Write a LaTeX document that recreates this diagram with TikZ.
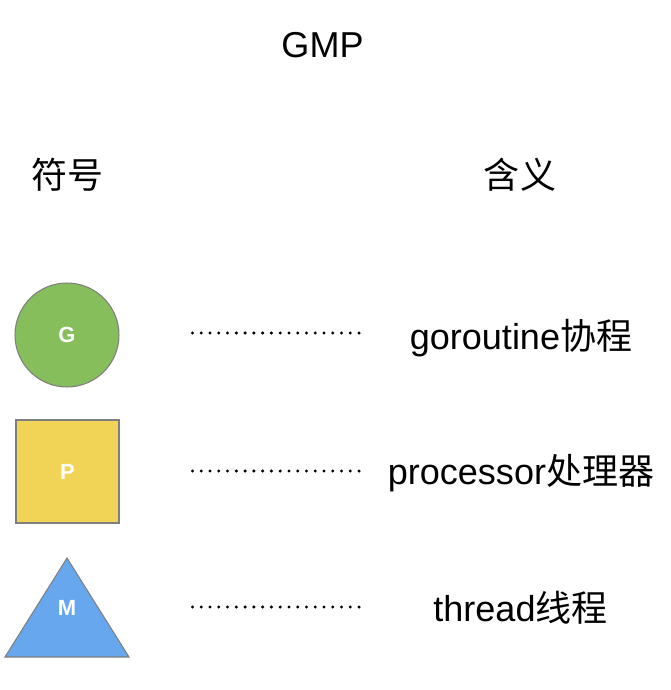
\documentclass[tikz,border=0pt]{standalone}
\usepackage{fontspec}
\setmainfont{Liberation Sans}
\newfontfamily\cjk{Noto Sans CJK SC}
\usetikzlibrary{positioning}
\definecolor{gGreen}{HTML}{86BE5B}
\definecolor{pYellow}{HTML}{F1D456}
\definecolor{mBlue}{HTML}{67A7EE}
\definecolor{symEdge}{HTML}{7F7F7F}

\tikzset{
  bigtext/.style={font=\fontsize{20.5}{24}\selectfont},
  symbol/.style={draw=symEdge, line width=0.6pt, text=white,
    font=\bfseries\fontsize{12.5}{14}\selectfont},
  dotline/.style={line width=1.9pt, line cap=round, dash pattern=on 0pt off 4.99pt}
}

\begin{document}
\begin{tikzpicture}[x=0.02cm,y=-0.02cm]
  \useasboundingbox (0,0) rectangle (670,690);
  % headings
  \node[bigtext] (title) at (322.5,45) {GMP};
  \node[bigtext] (symhead) at (67.5,175) {\cjk 符号};
  \node[bigtext] (meanhead) at (520,175) {\cjk 含义};

  % symbols
  \node[symbol, circle, fill=gGreen, minimum size=2.08cm] (g) at (67,335) {G};
  \node[symbol, rectangle, fill=pYellow, minimum size=2.06cm] (p) at (67.5,471.5) {P};
  \draw[draw=symEdge, line width=0.6pt, fill=mBlue] (67,558) -- (129,657) -- (5,657) -- cycle;
  \node[text=white, font=\bfseries\fontsize{12.5}{14}\selectfont] (m) at (67,608) {M};

  % meanings
  \node[bigtext] (gmean) at (521,338) {goroutine{\cjk 协程}};
  \node[bigtext] (pmean) at (521,473) {processor{\cjk 处理器}};
  \node[bigtext] (mmean) at (520.5,608) {thread{\cjk 线程}};

  % dotted links
  \coordinate (g1) at (192.5,333);
  \coordinate (g2) at (360.2,333);
  \coordinate (p1) at (192.5,471);
  \coordinate (p2) at (360.2,471);
  \coordinate (m1) at (192.5,607);
  \coordinate (m2) at (360.2,607);
  \draw[dotline] (g1) -- (g2);
  \draw[dotline] (p1) -- (p2);
  \draw[dotline] (m1) -- (m2);
\end{tikzpicture}
\end{document}
